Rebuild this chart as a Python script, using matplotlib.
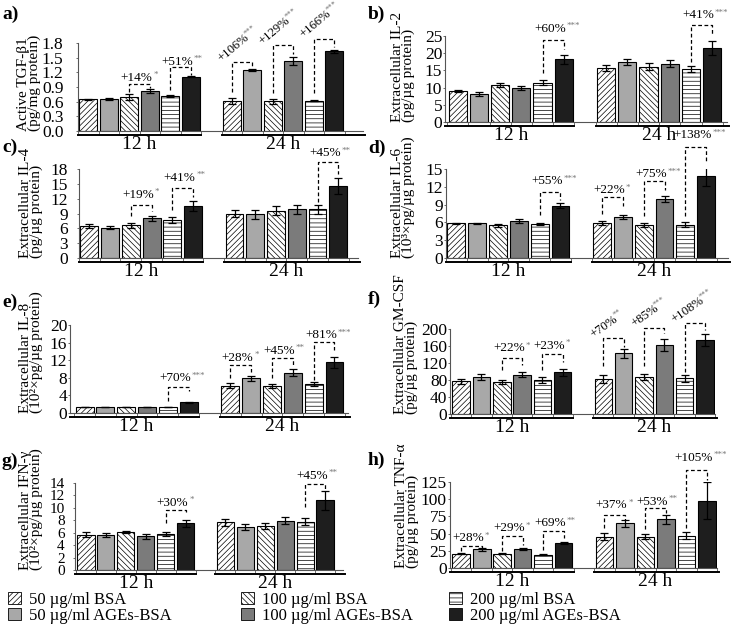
import matplotlib
matplotlib.use("Agg")
import matplotlib.pyplot as plt
from matplotlib.patches import Patch
from matplotlib.transforms import blended_transform_factory

plt.rcParams['font.family'] = ['Liberation Serif', 'DejaVu Serif']
plt.rcParams['hatch.linewidth'] = 0.5

# ---- data ----
series = ["50 µg/ml BSA", "50 µg/ml AGEs-BSA", "100 µg/ml BSA",
          "100 µg/ml AGEs-BSA", "200 µg/ml BSA", "200 µg/ml AGEs-BSA"]
groups = ["12 h", "24 h"]

# 12 values: 6 series at 12 h, then 6 series at 24 h
tgf_mean = [0.65, 0.65, 0.70, 0.81, 0.72, 1.11, 0.61, 1.24, 0.61, 1.44, 0.62, 1.63]
tgf_err = [0.01, 0.015, 0.06, 0.04, 0.02, 0.01, 0.06, 0.02, 0.05, 0.08, 0.01, 0.03]
il2_mean = [9.1, 8.1, 10.7, 9.8, 11.4, 18.2, 15.6, 17.4, 16.1, 16.9, 15.4, 21.6]
il2_err = [0.3, 0.5, 0.5, 0.6, 0.7, 1.3, 0.9, 0.9, 1.0, 1.0, 1.0, 2.0]
il4_mean = [6.45, 6.1, 6.6, 8.0, 7.6, 10.6, 9.0, 8.8, 9.6, 9.85, 9.85, 14.5]
il4_err = [0.35, 0.3, 0.5, 0.5, 0.6, 1.0, 0.8, 0.9, 1.0, 0.9, 0.9, 1.6]
il6_mean = [5.85, 5.85, 5.5, 6.2, 5.7, 8.8, 5.9, 6.95, 5.55, 9.95, 5.6, 13.75]
il6_err = [0.1, 0.1, 0.3, 0.3, 0.2, 0.4, 0.3, 0.35, 0.4, 0.5, 0.4, 1.6]
il8_mean = [1.4, 1.4, 1.4, 1.4, 1.4, 2.4, 6.25, 7.9, 6.2, 9.2, 6.6, 11.5]
il8_err = [0.0, 0.0, 0.0, 0.0, 0.0, 0.1, 0.5, 0.6, 0.5, 0.7, 0.5, 1.2]
gmcsf_mean = [76.6, 88, 75, 92, 80, 97.7, 82, 143, 88, 162.5, 84, 174]
gmcsf_err = [5, 7, 5, 6, 6, 9, 9, 11, 7, 15, 8, 15]
ifn_mean = [5.7, 5.6, 6.1, 5.4, 5.8, 7.5, 7.65, 6.95, 7.1, 7.95, 7.8, 11.2]
ifn_err = [0.35, 0.35, 0.2, 0.35, 0.25, 0.5, 0.55, 0.5, 0.5, 0.6, 0.55, 1.5]
tnf_mean = [20.7, 27.4, 20.7, 27.4, 19.2, 36.5, 45.7, 64.9, 45.7, 70.7, 47, 97.6]
tnf_err = [1, 2, 1, 1, 1, 2, 5, 5, 4, 7, 5, 27]

# significant changes: (bar i, bar j, label, stars)
tgf_marks = [(2, 3, "+14%", "*"), (4, 5, "+51%", "**"), (6, 7, "+106%", "***"),
             (8, 9, "+129%", "***"), (10, 11, "+166%", "***")]
il2_marks = [(4, 5, "+60%", "***"), (10, 11, "+41%", "***")]
il4_marks = [(2, 3, "+19%", "*"), (4, 5, "+41%", "**"), (10, 11, "+45%", "**")]
il6_marks = [(4, 5, "+55%", "***"), (6, 7, "+22%", "*"), (8, 9, "+75%", "***"),
             (10, 11, "+138%", "***")]
il8_marks = [(4, 5, "+70%", "***"), (6, 7, "+28%", "*"), (8, 9, "+45%", "**"),
             (10, 11, "+81%", "***")]
gmcsf_marks = [(2, 3, "+22%", "*"), (4, 5, "+23%", "*"), (6, 7, "+70%", "**"),
               (8, 9, "+85%", "***"), (10, 11, "+108%", "***")]
ifn_marks = [(4, 5, "+30%", "*"), (10, 11, "+45%", "**")]
tnf_marks = [(0, 1, "+28%", "*"), (2, 3, "+29%", "*"), (4, 5, "+69%", "**"),
             (6, 7, "+37%", "*"), (8, 9, "+53%", "**"), (10, 11, "+105%", "***")]

# ---- layout ----
W, H = 733, 638
pos = [0, 1, 2, 3, 4, 5, 7, 8, 9, 10, 11, 12]
face = ['white', '#a8a8a8', 'white', '#7b7b7b', 'white', '#1e1e1e']
hatches = ['//////', None, '\\\\\\\\\\\\', None, '----', None]

# bracket heights (left start, top, right end, text y); None text y -> rotated label
tgf_br = [(0.80, 0.97, 0.87, 1.09), (0.84, 1.31, 1.14, 1.41), (0.80, 1.41, 1.28, None),
          (0.78, 1.75, 1.58, None), (0.77, 1.89, 1.72, None)]
il2_br = [(14.1, 23.8, 21.3, 27.1), (17.5, 28.1, 25.7, 31.0)]
il4_br = [(8.4, 10.7, 9.6, 12.8), (9.7, 14.1, 12.4, 16.2), (11.4, 19.4, 17.0, 21.2)]
il6_br = [(7.2, 11.2, 9.8, 12.9), (7.5, 10.2, 8.7, 11.4), (7.1, 13.0, 11.5, 14.1),
          (7.1, 18.7, 16.0, 20.7)]
il8_br = [(2.8, 6.0, 5.1, 7.9), (7.9, 10.9, 9.4, 12.5), (7.9, 12.5, 10.9, 14.1),
          (7.5, 16.2, 14.3, 17.7)]
gmcsf_br = [(104, 131, 115.6, 155), (104, 141, 123, 160), (112, 178, 158.6, None),
            (112, 203, 190, None), (100, 213, 198, None)]
ifn_br = [(7.5, 9.7, 9.1, 10.8), (10.2, 13.9, 12.8, 15.2)]
tnf_br = [(24, 32.2, 28.8, 43), (24, 46.6, 33.7, 57.7), (26, 54, 43, 65),
          (57.7, 77, 69.7, 91), (56, 86.5, 80, 96), (57.7, 142, 128, 160)]

panels = [
    dict(tag="a)", tagxy=(2, 14), rect=(78, 43, 363, 131), xlim=(-0.5, 13.4),
         ylim=1.8, yticks=[0, 0.3, 0.6, 0.9, 1.2, 1.5, 1.8], fmt="{:.1f}", pad=9.0,
         tsize=12.5, ylabel="Active TGF-β1\n(pg/mg protein)", labx=29,
         mean=tgf_mean, err=tgf_err, marks=tgf_marks, br=tgf_br, rot=40),
    dict(tag="b)", tagxy=(368, 14), rect=(445, 36, 727, 122), xlim=(-0.6, 12.7),
         ylim=25, yticks=[0, 5, 10, 15, 20, 25], fmt="{:g}", pad=0.5,
         tsize=12.5, ylabel="Extracellular IL-2\n(pg/µg protein)", labx=403,
         mean=il2_mean, err=il2_err, marks=il2_marks, br=il2_br, rot=0),
    dict(tag="c)", tagxy=(2, 147), rect=(79, 169, 358, 258), xlim=(-0.5, 12.95),
         ylim=18, yticks=[0, 3, 6, 9, 12, 15, 18], fmt="{:g}", pad=6.5,
         tsize=12.5, ylabel="Extracellular IL-4\n(pg/µg protein)", labx=31,
         mean=il4_mean, err=il4_err, marks=il4_marks, br=il4_br, rot=0),
    dict(tag="d)", tagxy=(368, 148), rect=(446, 169, 728, 258), xlim=(-0.5, 13.05),
         ylim=15, yticks=[0, 3, 6, 9, 12, 15], fmt="{:g}", pad=0.7,
         tsize=12.5, ylabel="Extracellular IL-6\n(10³×pg/µg protein)", labx=403,
         mean=il6_mean, err=il6_err, marks=il6_marks, br=il6_br, rot=0),
    dict(tag="e)", tagxy=(2, 302), rect=(70, 325, 348, 413), xlim=(-0.7, 12.65),
         ylim=20, yticks=[0, 4, 8, 12, 16, 20], fmt="{:g}", pad=0.5,
         tsize=12.5, ylabel="Extracellular IL-8\n(10²×pg/µg protein)", labx=31,
         mean=il8_mean, err=il8_err, marks=il8_marks, br=il8_br, rot=0),
    dict(tag="f)", tagxy=(368, 299), rect=(450, 329, 715, 414), xlim=(-0.55, 12.5),
         ylim=200, yticks=[0, 40, 80, 120, 160, 200], fmt="{:g}", pad=0.5,
         tsize=12.5, ylabel="Extracellular GM-CSF\n(pg/µg protein)", labx=406,
         mean=gmcsf_mean, err=gmcsf_err, marks=gmcsf_marks, br=gmcsf_br, rot=35),
    dict(tag="g)", tagxy=(2, 461), rect=(75, 483, 343, 570), xlim=(-0.55, 12.9),
         ylim=14, yticks=[0, 2, 4, 6, 8, 10, 12, 14], fmt="{:g}", pad=5.8,
         tsize=11.0, ylabel="Extracellular IFN-γ\n(10²×pg/µg protein)", labx=31,
         mean=ifn_mean, err=ifn_err, marks=ifn_marks, br=ifn_br, rot=0),
    dict(tag="h)", tagxy=(368, 460), rect=(450, 482, 717, 568), xlim=(-0.55, 12.5),
         ylim=125, yticks=[0, 25, 50, 75, 100, 125], fmt="{:g}", pad=0.7,
         tsize=12.5, ylabel="Extracellular TNF-α\n(pg/µg protein)", labx=407,
         mean=tnf_mean, err=tnf_err, marks=tnf_marks, br=tnf_br, rot=0),
]

fig = plt.figure(figsize=(W / 100, H / 100), dpi=100)

for p in panels:
    L, T, R, B = p["rect"]
    ax = fig.add_axes([L / W, 1 - B / H, (R - L) / W, (B - T) / H])
    mean, err = p["mean"], p["err"]
    for k in range(6):
        ax.bar([pos[k], pos[k + 6]], [mean[k], mean[k + 6]], width=0.86,
               color=face[k], edgecolor='black', linewidth=0.8, hatch=hatches[k], zorder=2)
    ax.errorbar(pos, mean, yerr=err, fmt='none', ecolor='black', elinewidth=0.9,
                capsize=3, capthick=0.9, zorder=3)
    ax.set_xlim(*p["xlim"])
    ax.set_ylim(0, p["ylim"])
    ax.set_yticks(p["yticks"])
    ax.set_yticklabels([p["fmt"].format(v) for v in p["yticks"]])
    ax.set_xticks([-0.5, 0.5, 1.5, 2.5, 3.5, 4.5, 5.5, 6.5, 7.5, 8.5, 9.5, 10.5, 11.5, 12.5])
    ax.set_xticklabels([])
    ax.tick_params(axis='x', length=3, width=0.6, color='#555555')
    ax.tick_params(axis='y', labelsize=p["tsize"], length=1.5, width=0.6, pad=p["pad"],
                   color='#555555')
    for s in ("top", "right"):
        ax.spines[s].set_visible(False)
    for s in ("left", "bottom"):
        ax.spines[s].set_color('#555555')
        ax.spines[s].set_linewidth(0.8)

    # group underlines and labels
    tr = blended_transform_factory(ax.transData, ax.transAxes)
    dy = -4.0 / (B - T)
    ax.plot([p["xlim"][0], 5.5], [dy, dy], color='black', lw=1.4, transform=tr, clip_on=False)
    ax.plot([6.5, p["xlim"][1] + 0.1], [dy, dy], color='black', lw=1.4, transform=tr,
            clip_on=False)
    for gx, g in zip([2.5, 9.5], groups):
        ax.annotate(g, xy=(gx, 0), xycoords=tr, xytext=(0, -10), textcoords='offset points',
                    ha='center', va='center', fontsize=14, annotation_clip=False)

    # significance brackets
    for (i, j, lab, stars), (y1, yt, y2, ty) in zip(p["marks"], p["br"]):
        x1, x2 = pos[i], pos[j]
        ax.plot([x1, x1, x2, x2], [y1, yt, yt, y2], color='black', lw=0.9,
                ls=(0, (3, 2)), clip_on=False, zorder=4)
        if ty is None:
            t = ax.annotate(lab, xy=(x1 - 0.4, yt), xytext=(0, -1.5),
                            textcoords='offset points', rotation=p["rot"],
                            rotation_mode='anchor', ha='left', va='bottom', fontsize=9.2,
                            annotation_clip=False)
            ax.annotate(stars, xy=(1, 1), xycoords=t, xytext=(-3, -4.5),
                        textcoords='offset points', rotation=p["rot"],
                        rotation_mode='anchor', ha='left', va='bottom',
                        fontsize=6.0, color='#777777', annotation_clip=False)
        else:
            t = ax.text((x1 + x2) / 2 - 0.15, ty, lab, ha='center', va='center',
                        fontsize=9.5, clip_on=False)
            ax.annotate(stars, xy=(1, 1), xycoords=t, xytext=(0.5, 0.5),
                        textcoords='offset points', ha='left', va='top',
                        fontsize=6.5, color='#777777', annotation_clip=False)

    fig.text(p["labx"] / W, 1 - B / H, p["ylabel"], rotation=90, ha='center', va='bottom',
             multialignment='left', fontsize=11, linespacing=0.8)
    fig.text(p["tagxy"][0] / W, 1 - p["tagxy"][1] / H, p["tag"], ha='left', va='center',
             fontsize=14, fontweight='bold')

# legend: three columns of two entries
handles = [Patch(facecolor=face[k], edgecolor='black', linewidth=0.6, hatch=hatches[k])
           for k in range(6)]
for c, lx in enumerate([8, 241, 449]):
    fig.legend(handles[2 * c:2 * c + 2], series[2 * c:2 * c + 2], loc='upper left',
               bbox_to_anchor=(lx / W, 1 - 592 / H), frameon=False, fontsize=12,
               handlelength=0.75, handleheight=0.75, handletextpad=0.5,
               labelspacing=0.0, borderpad=0, borderaxespad=0)

fig.savefig("out.png", dpi=100)
